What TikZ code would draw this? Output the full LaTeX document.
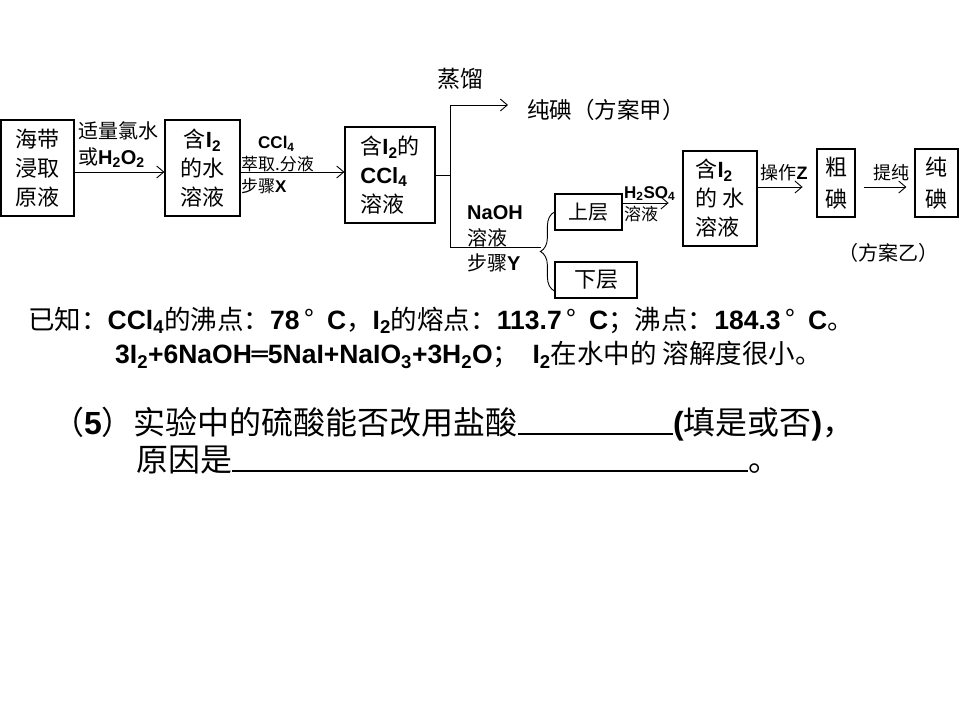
\documentclass[tikz,border=0pt]{standalone}
\usepackage{fontspec}
\setmainfont{Noto Sans CJK SC}
\newfontfamily\arialfont{Liberation Sans}
\newfontfamily\dvfont{DejaVu Sans}
\newcommand\ab[1]{{\arialfont\bfseries #1}}
\usetikzlibrary{arrows.meta,decorations.pathreplacing}
\tikzset{
  box/.style={draw, line width=1.2pt, inner sep=0pt, align=center},
  arr/.style={line width=0.9pt, -{Straight Barb[length=7pt,width=12pt]}},
  ln/.style={line width=0.9pt},
  txt/.style={inner sep=0pt, align=left},
  fbox/.style={font=\fontsize{22}{29}\selectfont},
  fsmall/.style={font=\fontsize{17}{22}\selectfont},
  fmid/.style={font=\fontsize{20}{26}\selectfont},
  fnote/.style={font=\fontsize{26.5}{30}\selectfont},
  fbig/.style={font=\fontsize{32}{38}\selectfont},
}
\begin{document}
\begin{tikzpicture}[x=1pt,y=-1pt]
\fill[white] (0,0) rectangle (960,720);
\useasboundingbox (0,0) rectangle (960,720);

% boxes
\node[box, fbox, minimum width=73pt, minimum height=96pt] (b1) at (37.5,168) {海带\\浸取\\原液};
\node[box, fbox, minimum width=75pt, minimum height=96pt] (b2) at (202.5,168) {含\ab{I\textsubscript{2}}\\的水\\溶液};
\node[box, fbox, align=left, minimum width=90pt, minimum height=96pt] (b3) at (390,175) {含\ab{I\textsubscript{2}}的\\\ab{CCl\textsubscript{4}}\\溶液};
\node[box, fmid, minimum width=67pt, minimum height=36pt] (b4) at (588.5,212) {上层};
\node[box, fbox, minimum width=82pt, minimum height=36pt] (b5) at (596,280) {下层};
\node[box, fbox, align=left, minimum width=74pt, minimum height=95pt] (b6) at (720,198.5) {含\ab{I\textsubscript{2}}\\的 水\\溶液};
\node[box, font=\fontsize{22}{32}\selectfont, minimum width=38pt, minimum height=68pt] (b7) at (836,183) {粗\\碘};
\node[box, font=\fontsize{22}{32}\selectfont, minimum width=43pt, minimum height=68pt] (b8) at (936.5,183) {纯\\碘};

% labels
\node[txt, fmid, anchor=west] (l1) at (78,145) {适量氯水\\或\ab{H\textsubscript{2}O\textsubscript{2}}};
\node[txt, fsmall, anchor=west] (l2) at (241,165) {\hspace{17pt}\ab{CCl\textsubscript{4}}\\萃取.分液\\步骤\ab{X}};
\node[txt, font=\fontsize{23}{28}\selectfont] (l3) at (460,79) {蒸馏};
\node[txt, font=\fontsize{22.5}{29}\selectfont, anchor=west] (p1) at (527,110) {纯碘（方案甲）};
\node[txt, font=\fontsize{20}{25.5}\selectfont, anchor=west] (l4) at (467,239) {\ab{NaOH}\\溶液\\步骤\ab{Y}};
\node[txt, fsmall, anchor=west] (l5) at (624,204) {\ab{H\textsubscript{2}SO\textsubscript{4}}\\溶液};
\node[txt, font=\fontsize{18}{22}\selectfont] (l6) at (784,173) {操作\ab{Z}};
\node[txt, font=\fontsize{18}{22}\selectfont] (l7) at (891,173) {提纯};
\node[txt, fmid] (p2) at (888,253) {（方案乙）};

% connectors
\draw[arr] ([yshift=-4pt]b1.east) -- ([yshift=-4pt]b1.east -| b2.west);
\draw[arr] ([yshift=-4pt]b2.east) -- ([yshift=-4pt]b2.east -| b3.west);
\coordinate (ja) at (450,105);
\coordinate (jb) at (450,247);
\coordinate (jt) at (508,105);
\coordinate (jc) at (541,247);
\draw[ln] (b3.east) -- (b3.east -| ja);
\draw[ln] (ja) -- (jb) -- (jc);
\draw[arr] (ja) -- (jt);
\draw[ln, decorate, decoration={brace, amplitude=14pt}] ([yshift=-11pt]b5.west) -- (b4.west);
\draw[arr] ([yshift=9pt]b4.east) -- ++(46,0);
\draw[arr] ([yshift=11.5pt]b6.east) -- ++(45,0);
\draw[arr] ([shift={(8pt,-4pt)}]b7.east) -- ([shift={(-8pt,-4pt)}]b8.west);

% notes
\node[txt, fnote, anchor=west] (k1) at (28,320) {已知：\ab{CCl\textsubscript{4}}的沸点：\ab{78}\,°\enspace\ab{C}，\ab{I\textsubscript{2}}的熔点：\ab{113.7}\,°\enspace\ab{C}；沸点：\ab{184.3}\,°\enspace\ab{C}。};
\node[txt, fnote, anchor=west] (k2) at (115,355) {\ab{3I\textsubscript{2}+6NaOH}{\dvfont\bfseries ═}\ab{5NaI+NaIO\textsubscript{3}+3H\textsubscript{2}O}；\enspace\ab{I\textsubscript{2}}在水中的 溶解度很小。};
\node[txt, fbig, anchor=west] (q1) at (52,424) {（\ab{5}）实验中的硫酸能否改用盐酸\rule[-1pt]{155pt}{2.5pt}\ab{(}填是或否\ab{)}，};
\node[txt, fbig, anchor=west] (q2) at (136,460) {原因是\rule[-1pt]{516pt}{2.5pt}。};
\end{tikzpicture}
\end{document}
